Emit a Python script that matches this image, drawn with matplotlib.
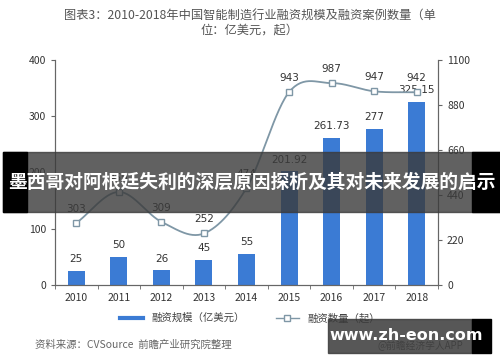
import numpy as np
import matplotlib
matplotlib.use("Agg")
import matplotlib.pyplot as plt
from matplotlib.lines import Line2D
from matplotlib.patches import Rectangle

plt.rcParams["font.family"] = ["Noto Sans CJK SC", "DejaVu Sans"]

years = ["2010", "2011", "2012", "2013", "2014", "2015", "2016", "2017", "2018"]
amount = [25, 50, 26, 45, 55, 201.92, 261.73, 277, 325.15]
amount_labels = ["25", "50", "26", "45", "55", "201.92", "261.73", "277", "325.15"]
deals = [303, 455, 309, 252, 474, 943, 987, 947, 942]

BAR = "#3b7bd4"
LINE = "#7f97a6"
TXT = "#333333"


def catmull_rom(xs, ys, n=30):
    px = np.concatenate([[2 * xs[0] - xs[1]], xs, [2 * xs[-1] - xs[-2]]])
    py = np.concatenate([[2 * ys[0] - ys[1]], ys, [2 * ys[-1] - ys[-2]]])
    ox, oy = [], []
    t = np.linspace(0, 1, n, endpoint=False)
    for i in range(1, len(px) - 2):
        for arr, out in ((px, ox), (py, oy)):
            p0, p1, p2, p3 = arr[i - 1], arr[i], arr[i + 1], arr[i + 2]
            out.extend(0.5 * (2 * p1 + (-p0 + p2) * t
                              + (2 * p0 - 5 * p1 + 4 * p2 - p3) * t ** 2
                              + (-p0 + 3 * p1 - 3 * p2 + p3) * t ** 3))
    ox.append(xs[-1])
    oy.append(ys[-1])
    return np.array(ox), np.array(oy)


fig = plt.figure(figsize=(5.0, 3.62), dpi=100)
ax = fig.add_axes([55 / 500, 77 / 362, 383 / 500, 225 / 362])
ax2 = ax.twinx()

x = np.arange(len(years))
ax.bar(x, amount, width=0.4, color=BAR, zorder=2)
for xi, v, lab in zip(x, amount, amount_labels):
    ax.text(xi, v + 12, lab, ha="center", va="bottom", fontsize=7.5, color=TXT,
            family="DejaVu Sans")

sx, sy = catmull_rom(x.astype(float), np.array(deals, dtype=float))
ax2.plot(sx, sy, color=LINE, lw=1.3, zorder=3)
ax2.plot(x, deals, ls="none", marker="s", ms=5, mfc="white", mec=LINE,
         mew=1, zorder=4)
for xi, v in zip(x, deals):
    ax2.text(xi, v + 45, str(v), ha="center", va="bottom", fontsize=7.5,
             color=TXT, family="DejaVu Sans")

ax.set_xlim(-0.5, len(years) - 0.5)
ax.set_ylim(0, 400)
ax2.set_ylim(0, 1100)
ax.set_yticks([0, 100, 200, 300, 400])
ax2.set_yticks([0, 220, 440, 660, 880, 1100])
ax.set_xticks(x)
ax.set_xticklabels(years)
ax.set_xticks(np.arange(-0.5, len(years), 1), minor=True)
ax.tick_params(axis="x", which="major", length=0, pad=6)
ax.tick_params(axis="x", which="minor", length=3, color="#666666")
for a in (ax, ax2):
    a.tick_params(axis="y", length=3, color="#666666", labelsize=7.5,
                  labelcolor=TXT)
    a.spines["top"].set_visible(False)
    for s in a.spines.values():
        s.set_color("#666666")
ax.tick_params(axis="x", labelsize=7.5, labelcolor=TXT)
ax.set_zorder(ax2.get_zorder() - 1)
ax.patch.set_visible(True)
ax2.patch.set_visible(False)

fig.text(0.5, 0.955, "图表3：2010-2018年中国智能制造行业融资规模及融资案例数量（单",
         ha="center", va="center", fontsize=8.8, color="#555555")
fig.text(0.5, 0.918, "位：亿美元，起）", ha="center", va="center",
         fontsize=8.8, color="#555555")

handles = [Line2D([], [], color=BAR, lw=3),
           Line2D([], [], color=LINE, lw=1, marker="s", ms=4, mfc="white",
                  mec=LINE)]
fig.legend(handles, ["融资规模（亿美元）", "融资数量（起）"], loc="center",
           bbox_to_anchor=(0.5, 1 - 318 / 362), ncol=2, frameon=False,
           fontsize=7.5, handlelength=2.2, columnspacing=3, labelcolor="#444444")

fig.text(0.07, 1 - 345 / 362, "资料来源：CVSource  前瞻产业研究院整理",
         ha="left", va="center", fontsize=7.5, color="#666666", style="italic")
fig.text(0.755, 1 - 346 / 362, "@前瞻经济学人APP", ha="left", va="center",
         fontsize=7, color="#666666")

# overlay banner across the middle
fig.patches.append(Rectangle((3 / 500, 1 - 212 / 362), 497 / 500, 60 / 362,
                             transform=fig.transFigure, color="#3a3a3a",
                             alpha=0.8, zorder=10))
fig.patches.append(Rectangle((3 / 500, 1 - 212 / 362), 24 / 500, 60 / 362,
                             transform=fig.transFigure, color="black",
                             zorder=11))
fig.patches.append(Rectangle((472 / 500, 1 - 212 / 362), 28 / 500, 60 / 362,
                             transform=fig.transFigure, color="black",
                             zorder=11))
fig.text(0.503, 1 - 182 / 362, "墨西哥对阿根廷失利的深层原因探析及其对未来发展的启示",
         ha="center", va="center", fontsize=13.5, color="white",
         weight="bold", zorder=12)

# watermark box bottom right
fig.patches.append(Rectangle((328 / 500, 1 - 353 / 362), 144 / 500, 34 / 362,
                             transform=fig.transFigure, color="#3a3a3a",
                             alpha=0.85, zorder=10))
fig.patches.append(Rectangle((472 / 500, 1 - 353 / 362), 19 / 500, 34 / 362,
                             transform=fig.transFigure, color="black",
                             zorder=11))
fig.text(406 / 500, 1 - 336 / 362, "www.zh-eon.com", ha="center", va="center",
         fontsize=11.5, color="white", weight="bold", zorder=12,
         family="DejaVu Sans")

fig.savefig("out.png", dpi=100)
